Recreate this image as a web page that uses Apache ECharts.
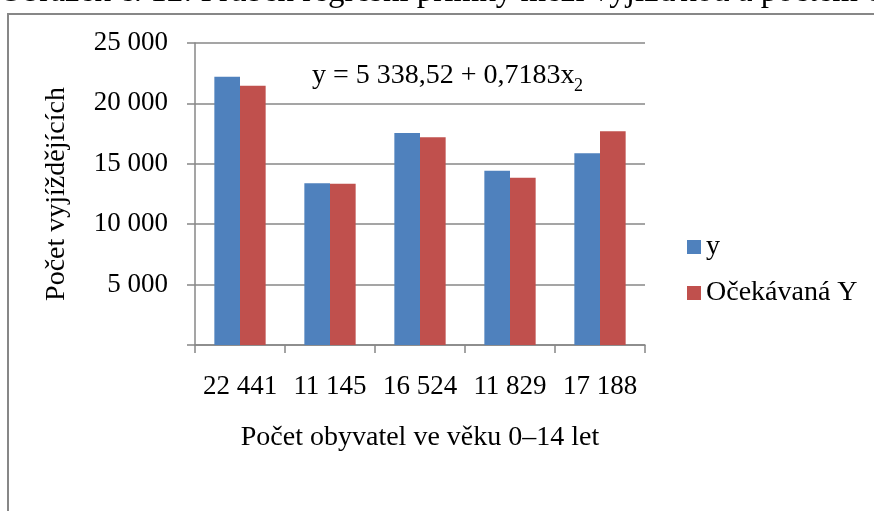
<!DOCTYPE html>
<html>
<head>
<meta charset="utf-8">
<script src="https://cdn.jsdelivr.net/npm/echarts@6/dist/echarts.min.js"></script>
<style>
    html, body { margin: 0; padding: 0; background: #fff; }
    #container { width: 874px; height: 511px; }
</style>
</head>
<body>
<div id="container"></div>
<script type="text/javascript">
    // kategorie = počet obyvatel ve věku 0–14 let
    var categories = ['22 441', '11 145', '16 524', '11 829', '17 188'];
    // skutečný počet vyjíždějících
    var actualY = [22200, 13400, 17540, 14420, 15880];
    // očekávaná hodnota z regrese
    var expectedY = [21458, 13344, 17208, 13835, 17685];
    var yTicks = [0, 5000, 10000, 15000, 20000, 25000];

    var serif = 'Liberation Serif';
    var grey = '#878787';

    function fmt(v) {
        if (v === 0) return '';
        return String(v).replace(/\B(?=(\d{3})+(?!\d))/g, ' ');
    }

    var dom = document.getElementById('container');
    var myChart = echarts.init(dom);
    var option = {
        backgroundColor: '#fff',
        animation: false,
        textStyle: { fontFamily: serif, color: '#000' },
        grid: { left: 195, right: 229, top: 43, bottom: 166, containLabel: false },
        legend: {
            orient: 'vertical',
            left: 682,
            top: 228,
            itemWidth: 14,
            itemHeight: 14,
            itemGap: 18,
            icon: 'rect',
            textStyle: { fontFamily: serif, fontSize: 28, color: '#000' },
            data: ['y', 'Očekávaná Y']
        },
        xAxis: {
            type: 'category',
            data: categories,
            name: 'Počet obyvatel ve věku 0–14 let',
            nameLocation: 'middle',
            nameGap: 79,
            nameTextStyle: { fontFamily: serif, fontSize: 28, color: '#000' },
            axisLine: { lineStyle: { color: grey, width: 1.5 } },
            axisTick: { show: true, length: 8, lineStyle: { color: grey, width: 1.5 } },
            axisLabel: { interval: 0, margin: 28, fontFamily: serif, fontSize: 27, color: '#000' }
        },
        yAxis: {
            type: 'value',
            min: yTicks[0],
            max: yTicks[yTicks.length - 1],
            interval: 5000,
            name: 'Počet vyjíždějících',
            nameLocation: 'middle',
            nameGap: 124,
            nameTextStyle: { fontFamily: serif, fontSize: 28, color: '#000' },
            axisLine: { show: true, lineStyle: { color: grey, width: 1.5 } },
            axisTick: { show: true, length: 8, lineStyle: { color: grey, width: 1.5 } },
            axisLabel: { margin: 27, fontFamily: serif, fontSize: 27, color: '#000', formatter: fmt },
            splitLine: { lineStyle: { color: grey, width: 1.5 } }
        },
        series: [{
            name: 'y',
            type: 'bar',
            data: actualY,
            barGap: 0,
            barCategoryGap: '43%',
            itemStyle: { color: '#4F81BD' }
        }, {
            name: 'Očekávaná Y',
            type: 'bar',
            data: expectedY,
            itemStyle: { color: '#C0504D' }
        }],
        graphic: [{
            type: 'rect',
            z: -10,
            shape: { x: 8, y: 14, width: 1000, height: 700 },
            style: { fill: 'none', stroke: grey, lineWidth: 2 }
        }, {
            type: 'text',
            x: -1,
            y: -8,
            style: {
                text: 'Obrázek č. 12: Průběh regresní přímky mezi vyjížďkou a počtem obyvatel ve věku 0–14 let',
                font: '33px "Liberation Serif"',
                fill: '#000',
                verticalAlign: 'middle'
            }
        }, {
            type: 'text',
            x: 312,
            y: 76,
            style: {
                text: 'y = 5 338,52 + 0,7183x',
                font: '28px "Liberation Serif"',
                fill: '#000',
                verticalAlign: 'middle'
            }
        }, {
            type: 'text',
            x: 574,
            y: 86,
            style: {
                text: '2',
                font: '18px "Liberation Serif"',
                fill: '#000',
                verticalAlign: 'middle'
            }
        }]
    };
    myChart.setOption(option);
</script>
</body>
</html>
